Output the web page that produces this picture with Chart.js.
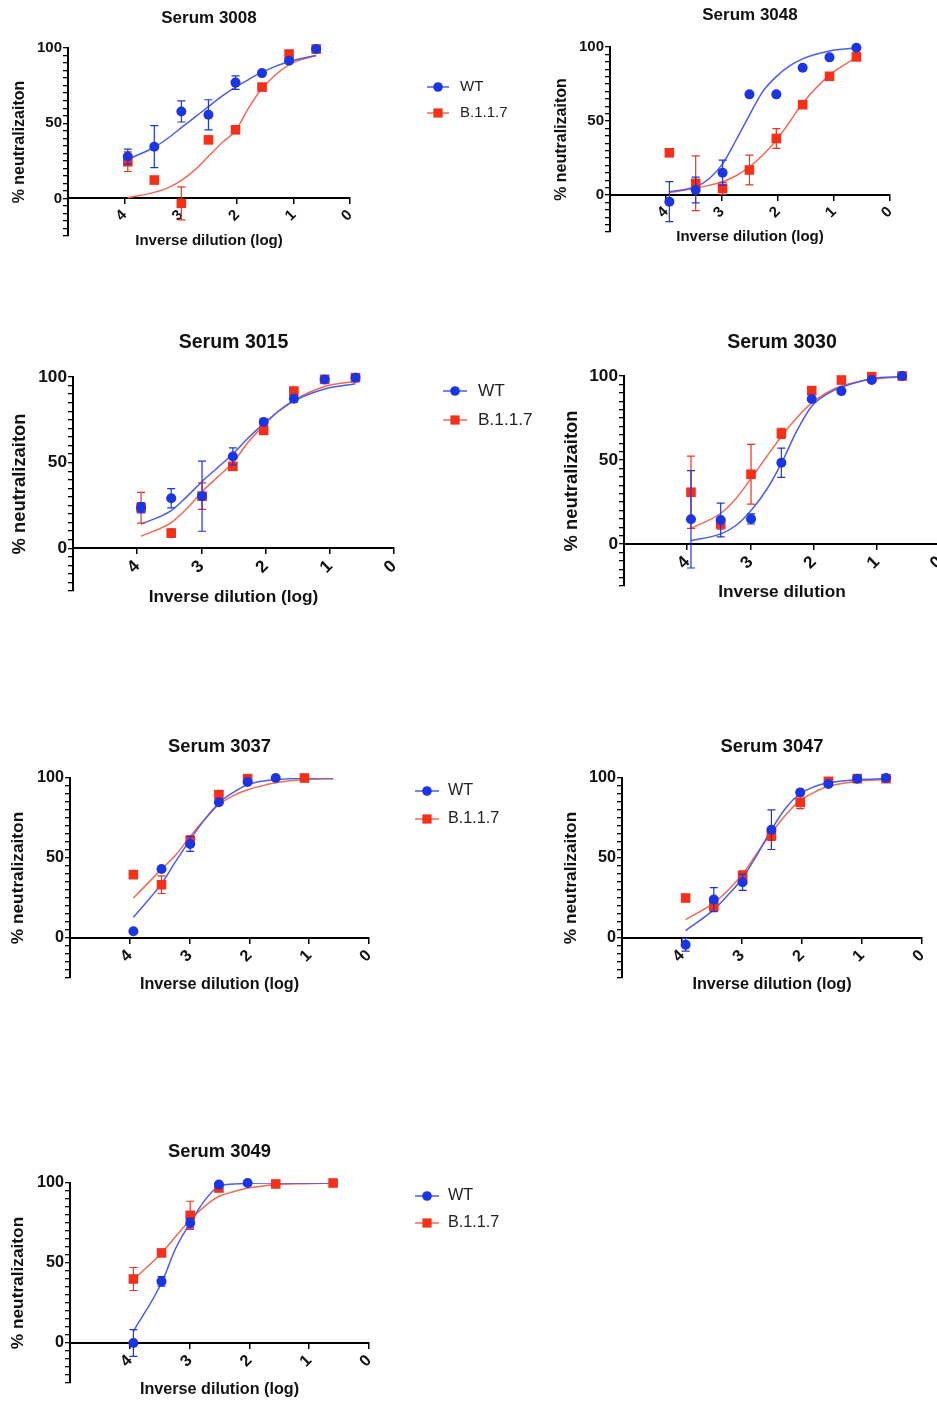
<!DOCTYPE html>
<html>
<head>
<meta charset="utf-8">
<title>Serum neutralization, WT vs B.1.1.7</title>
<script src="https://cdn.jsdelivr.net/npm/chart.js"></script>
<style>
  html, body { margin: 0; padding: 0; background: #fff; overflow: hidden; }
  body { width: 937px; height: 1402px; position: relative; }
  canvas { position: absolute; }
</style>
</head>
<body>
<script>
// log10 inverse dilution of each well (same series for every serum)
const dilutionLog = [3.94, 3.47, 2.99, 2.51, 2.03, 1.56, 1.08, 0.60];
const fitLog = [3.94, 3.47, 3.23, 2.99, 2.75, 2.51, 2.27, 2.03, 1.80, 1.56, 1.08, 0.60];

const xTickLabels = [0, 1, 2, 3, 4];
const yTickLabels = [0, 50, 100];
const seriesNames = ['WT', 'B.1.1.7'];

// Serum 3008
const wt3008 = [27.8, 34.4, 57.8, 55.6, 77.0, 83.3, 91.5, 99.3];
const wt3008Err = [5, 14, 7, 10, 4.5, 0, 0, 0];
const b3008 = [24.4, 12.2, -3.3, 38.9, 45.6, 74.0, 96.0, 99.3];
const b3008Err = [6.5, 0, 11, 0, 0, 0, 0, 0];
const wtFit3008 = [26, 34, 40, 47, 54, 61, 68, 74, 79, 84, 91, 95];
const bFit3008 = [0.5, 4, 7, 12, 19, 28, 37, 45, 60, 73, 89, 95];

// Serum 3048
const wt3048 = [-4.5, 3.4, 15.0, 68.0, 68.0, 86.0, 93.0, 99.5];
const wt3048Err = [13.5, 8.7, 8.5, 0, 0, 0, 0, 0];
const b3048 = [28.5, 7.9, 4.5, 16.9, 38.2, 61.0, 80.2, 93.3];
const b3048Err = [0, 18.5, 4, 10, 6.7, 0, 0, 0];
const wtFit3048 = [2.2, 5.6, 11, 21, 37, 54, 70, 80, 87, 92, 97.3, 99.3];
const bFit3048 = [1.6, 4.5, 6.5, 9, 13, 19, 27, 37, 49, 62, 81, 93];

// Serum 3015
const wt3015 = [23.6, 29.2, 30.4, 53.6, 73.7, 87.3, 98.6, 99.6];
const wt3015Err = [3, 5.6, 20.5, 5, 2, 2, 0, 0];
const b3015 = [23.6, 8.8, 30.4, 47.8, 68.8, 91.8, 98.6, 99.6];
const b3015Err = [9, 2.5, 7.7, 2, 2, 2, 0, 0];
const wtFit3015 = [14, 22, 30, 39, 47, 55, 64.5, 72.7, 80, 86, 93, 96];
const bFit3015 = [7, 15, 23, 33, 41.5, 50, 62, 71.7, 80, 86.4, 94.5, 97.5];

// Serum 3030
const wt3030 = [14.7, 14.3, 14.9, 48.4, 86.3, 91.0, 97.6, 100];
const wt3030Err = [29, 10, 3, 8.7, 0, 0, 0, 0];
const b3030 = [30.8, 11.9, 41.5, 65.9, 91.3, 97.6, 99.6, 100];
const b3030Err = [21.5, 3, 17.8, 3, 0, 0, 0, 0];
const wtFit3030 = [2, 6, 11, 20, 32, 48, 67, 82, 89, 93.3, 98.4, 99.6];
const bFit3030 = [9.3, 18.3, 27, 39, 51.6, 64, 75, 84, 90, 94, 98, 99.6];

// Serum 3037
const wt3037 = [4.2, 43.1, 58.8, 84.8, 97.5, 100, null, null];
const wt3037Err = [0, 0, 4.7, 0, 0, 0, 0, 0];
const b3037 = [39.6, 33.3, 60.8, 89.6, 99.6, null, 100, null];
const b3037Err = [0, 5.5, 3, 0, 0, 0, 0, 0];
const wtFit3037 = [13, 34, 48, 61.5, 74, 84.4, 91, 95.8, 98, 99, 99.8, 100];
const bFit3037 = [25, 43, 52, 63.5, 74, 83.3, 89, 92.7, 95, 97, 99, 99.4];

// Serum 3047
const wt3047 = [-4.2, 24.0, 34.8, 67.7, 91.0, 96.3, 99.6, 100];
const wt3047Err = [4, 7.5, 5, 12.4, 0, 0, 0, 0];
const b3047 = [25.0, 19.8, 39.0, 64.0, 84.8, 97.9, 99.6, 99.6];
const b3047Err = [0, 3, 3, 3, 4, 0, 0, 0];
const wtFit3047 = [4.6, 17.7, 27, 37.5, 52, 67.7, 81.3, 90.2, 94.5, 97, 99, 99.6];
const bFit3047 = [11.5, 22, 30, 40, 53, 65.6, 77, 86, 91, 94.8, 98, 99];

// Serum 3049
const wt3049 = [0, 38.5, 75.0, 99.0, 100, null, null, null];
const wt3049Err = [8.3, 3, 3, 0, 0, 0, 0, 0];
const b3049 = [40.0, 56.3, 79.8, 96.9, null, 99.4, null, 100];
const b3049Err = [7.2, 2, 8.8, 0, 0, 0, 0, 0];
const wtFit3049 = [7.3, 37.5, 59.4, 75, 89, 97.9, 99.3, 99.8, 100, 100, 100, 100];
const bFit3049 = [39.6, 56.3, 66.7, 77, 85.4, 91.7, 94.5, 96.9, 98, 99, 99.6, 100];

const FONT = '"Liberation Sans", Arial, Helvetica, sans-serif';
const BLUE = '#1c35e3', RED = '#f4301a';
const BLUE_FIT = '#4a5cf0', RED_FIT = '#f26a55';
const Y_SCALE_W = 70;

// page geometry of each panel: L/R = pixel of x=5 / x=0, T/Y0 = pixel of y=100 / y=0
const panels = [
  { title: 'Serum 3008', xTitle: 'Inverse dilution (log)',
    wt: wt3008, wtErr: wt3008Err, b: b3008, bErr: b3008Err, wtFit: wtFit3008, bFit: bFit3008,
    L: 68, R: 350, T: 48, Y0: 198, titleY: 18, xTitleY: 240, yTitleX: 20, s: 1,
    key: { x: 438, y: [87, 113], tx: 460, half: 11 } },
  { title: 'Serum 3048', xTitle: 'Inverse dilution (log)',
    wt: wt3048, wtErr: wt3048Err, b: b3048, bErr: b3048Err, wtFit: wtFit3048, bFit: bFit3048,
    L: 610, R: 890, T: 47, Y0: 195, titleY: 15, xTitleY: 237, yTitleX: 562, s: 1 },
  { title: 'Serum 3015', xTitle: 'Inverse dilution (log)',
    wt: wt3015, wtErr: wt3015Err, b: b3015, bErr: b3015Err, wtFit: wtFit3015, bFit: bFit3015,
    L: 73, R: 394, T: 377, Y0: 548, titleY: 343, xTitleY: 597, yTitleX: 20, s: 1.15,
    key: { x: 455, y: [391, 420], tx: 478, half: 12 } },
  { title: 'Serum 3030', xTitle: 'Inverse dilution',
    wt: wt3030, wtErr: wt3030Err, b: b3030, bErr: b3030Err, wtFit: wtFit3030, bFit: bFit3030,
    L: 624, R: 940, T: 376, Y0: 544, titleY: 343, xTitleY: 592, yTitleX: 572, s: 1.15 },
  { title: 'Serum 3037', xTitle: 'Inverse dilution (log)',
    wt: wt3037, wtErr: wt3037Err, b: b3037, bErr: b3037Err, wtFit: wtFit3037, bFit: bFit3037,
    L: 70, R: 369, T: 778, Y0: 938, titleY: 747, xTitleY: 985, yTitleX: 18, s: 1.08,
    key: { x: 427, y: [791, 819], tx: 448, half: 12 } },
  { title: 'Serum 3047', xTitle: 'Inverse dilution (log)',
    wt: wt3047, wtErr: wt3047Err, b: b3047, bErr: b3047Err, wtFit: wtFit3047, bFit: bFit3047,
    L: 622, R: 922, T: 778, Y0: 938, titleY: 747, xTitleY: 985, yTitleX: 571, s: 1.08 },
  { title: 'Serum 3049', xTitle: 'Inverse dilution (log)',
    wt: wt3049, wtErr: wt3049Err, b: b3049, bErr: b3049Err, wtFit: wtFit3049, bFit: bFit3049,
    L: 70, R: 369, T: 1183, Y0: 1343, titleY: 1152, xTitleY: 1390, yTitleX: 18, s: 1.08,
    key: { x: 427, y: [1196, 1223], tx: 448, half: 12 } }
];

// vertical SD bars with caps, drawn just under each point dataset
const errorBars = {
  id: 'errorBars',
  beforeDatasetDraw(chart, args) {
    const ds = chart.data.datasets[args.index];
    if (!ds.errors) return;
    const { ctx, scales: { x, y } } = chart;
    ctx.save();
    ctx.strokeStyle = ds.borderColor;
    ctx.lineWidth = 1.2;
    ds.data.forEach((pt, i) => {
      const e = ds.errors[i];
      if (!e || pt.y === null) return;
      const px = x.getPixelForValue(pt.x);
      const top = y.getPixelForValue(pt.y + e);
      const bot = y.getPixelForValue(pt.y - e);
      ctx.beginPath();
      ctx.moveTo(px, top); ctx.lineTo(px, bot);
      ctx.moveTo(px - 4, top); ctx.lineTo(px + 4, top);
      ctx.moveTo(px - 4, bot); ctx.lineTo(px + 4, bot);
      ctx.stroke();
    });
    ctx.restore();
  }
};

// legend to the right of the plot: line + marker + name
function makeKey(key, offX, offY, size) {
  return {
    id: 'seriesKey',
    afterDraw(chart) {
      const ctx = chart.ctx;
      ctx.save();
      seriesNames.forEach((name, i) => {
        const x = key.x - offX, y = key.y[i] - offY;
        ctx.strokeStyle = i === 0 ? BLUE_FIT : RED_FIT;
        ctx.lineWidth = 1.5;
        ctx.beginPath();
        ctx.moveTo(x - key.half, y); ctx.lineTo(x + key.half, y);
        ctx.stroke();
        ctx.fillStyle = i === 0 ? BLUE : RED;
        if (i === 0) {
          ctx.beginPath(); ctx.arc(x, y, 4.8, 0, Math.PI * 2); ctx.fill();
        } else {
          ctx.fillRect(x - 4.6, y - 4.6, 9.2, 9.2);
        }
        ctx.fillStyle = '#222';
        ctx.font = size + 'px ' + FONT;
        ctx.textBaseline = 'middle';
        ctx.fillText(name, key.tx - offX, y);
      });
      ctx.restore();
    }
  };
}

function points(vals) {
  return dilutionLog.map((x, i) => ({ x: x, y: vals[i] }));
}
function curve(vals) {
  return fitLog.map((x, i) => ({ x: x, y: vals[i] }));
}

panels.forEach(p => {
  const f = { title: 17 * p.s, xt: 15 * p.s, yt: 16 * p.s, tick: 15 * p.s, key: 15 * p.s };
  const B = p.Y0 + (p.Y0 - p.T) * 0.25;            // pixel of y = -25
  const left = p.L - Y_SCALE_W;
  const top = Math.round(p.titleY - 0.6 * f.title - 2);
  const padRight = p.key ? Math.round(p.key.tx + 80 - p.R) : 25;
  const padBottom = Math.max(14, Math.ceil(p.xTitleY + 0.75 * f.xt - B));
  const width = Math.round(p.R - left + padRight);
  const height = Math.round(B + padBottom - top);
  const titlePadBottom = (p.T - top) - 1.2 * f.title - 2;
  const xScaleH = p.xTitleY - p.Y0 + 0.6 * f.xt;
  const yTitlePad = (p.yTitleX - left) - 0.6 * f.yt;

  const canvas = document.createElement('canvas');
  canvas.width = width; canvas.height = height;
  canvas.style.left = left + 'px';
  canvas.style.top = top + 'px';
  canvas.style.width = width + 'px';
  canvas.style.height = height + 'px';
  document.body.appendChild(canvas);

  const chartPlugins = [errorBars];
  if (p.key) chartPlugins.push(makeKey(p.key, left, top, f.key));

  new Chart(canvas, {
    type: 'scatter',
    data: {
      datasets: [
        { label: seriesNames[0], data: points(p.wt), errors: p.wtErr, order: 1, clip: false,
          pointStyle: 'circle', pointRadius: 5, pointBorderWidth: 0,
          backgroundColor: BLUE, borderColor: BLUE },
        { label: seriesNames[1], data: points(p.b), errors: p.bErr, order: 2, clip: false,
          pointStyle: 'rect', pointRadius: 6.8, pointBorderWidth: 0,
          backgroundColor: RED, borderColor: RED },
        { label: seriesNames[0] + ' fit', data: curve(p.wtFit), order: 3,
          showLine: true, pointRadius: 0, borderColor: BLUE_FIT, borderWidth: 1.5,
          cubicInterpolationMode: 'monotone' },
        { label: seriesNames[1] + ' fit', data: curve(p.bFit), order: 4,
          showLine: true, pointRadius: 0, borderColor: RED_FIT, borderWidth: 1.5,
          cubicInterpolationMode: 'monotone' }
      ]
    },
    options: {
      responsive: false,
      animation: false,
      layout: { padding: { left: 0, top: 0, right: padRight, bottom: padBottom } },
      plugins: {
        legend: { display: false },
        tooltip: { enabled: false },
        title: {
          display: true, text: p.title, fullSize: false, color: '#111',
          font: { family: FONT, size: f.title, weight: 'bold' },
          padding: { top: 2, bottom: titlePadBottom }
        }
      },
      scales: {
        x: {
          type: 'linear', min: 0, max: 5, reverse: true, position: { y: 0 },
          afterFit: scale => { scale.height = xScaleH; },
          border: { display: true, color: '#000', width: 2 },
          grid: { display: true, drawOnChartArea: false, drawTicks: true, tickLength: 5,
                  color: '#000', lineWidth: 1.5 },
          ticks: {
            stepSize: 1, autoSkip: false, minRotation: 45, maxRotation: 45, padding: 3,
            color: '#111', font: { family: FONT, size: f.tick, weight: 'bold' },
            callback: v => xTickLabels.includes(v) ? String(v) : ''
          },
          title: { display: true, text: p.xTitle, color: '#111', padding: 0,
                   font: { family: FONT, size: f.xt, weight: 'bold' } }
        },
        y: {
          type: 'linear', min: -25, max: 100, position: 'left',
          afterFit: scale => { scale.width = Y_SCALE_W; },
          border: { display: true, color: '#000', width: 2 },
          grid: { display: true, drawOnChartArea: false, drawTicks: true, tickLength: 5,
                  color: '#000', lineWidth: 1.3 },
          ticks: {
            stepSize: 5, autoSkip: false, padding: 1,
            color: '#111', font: { family: FONT, size: f.tick, weight: 'bold' },
            callback: v => yTickLabels.includes(v) ? String(v) : ''
          },
          title: { display: true, text: '% neutralizaiton', color: '#111',
                   padding: { top: yTitlePad, bottom: 0 },
                   font: { family: FONT, size: f.yt, weight: 'bold' } }
        }
      }
    },
    plugins: chartPlugins
  });
});
</script>
</body>
</html>
